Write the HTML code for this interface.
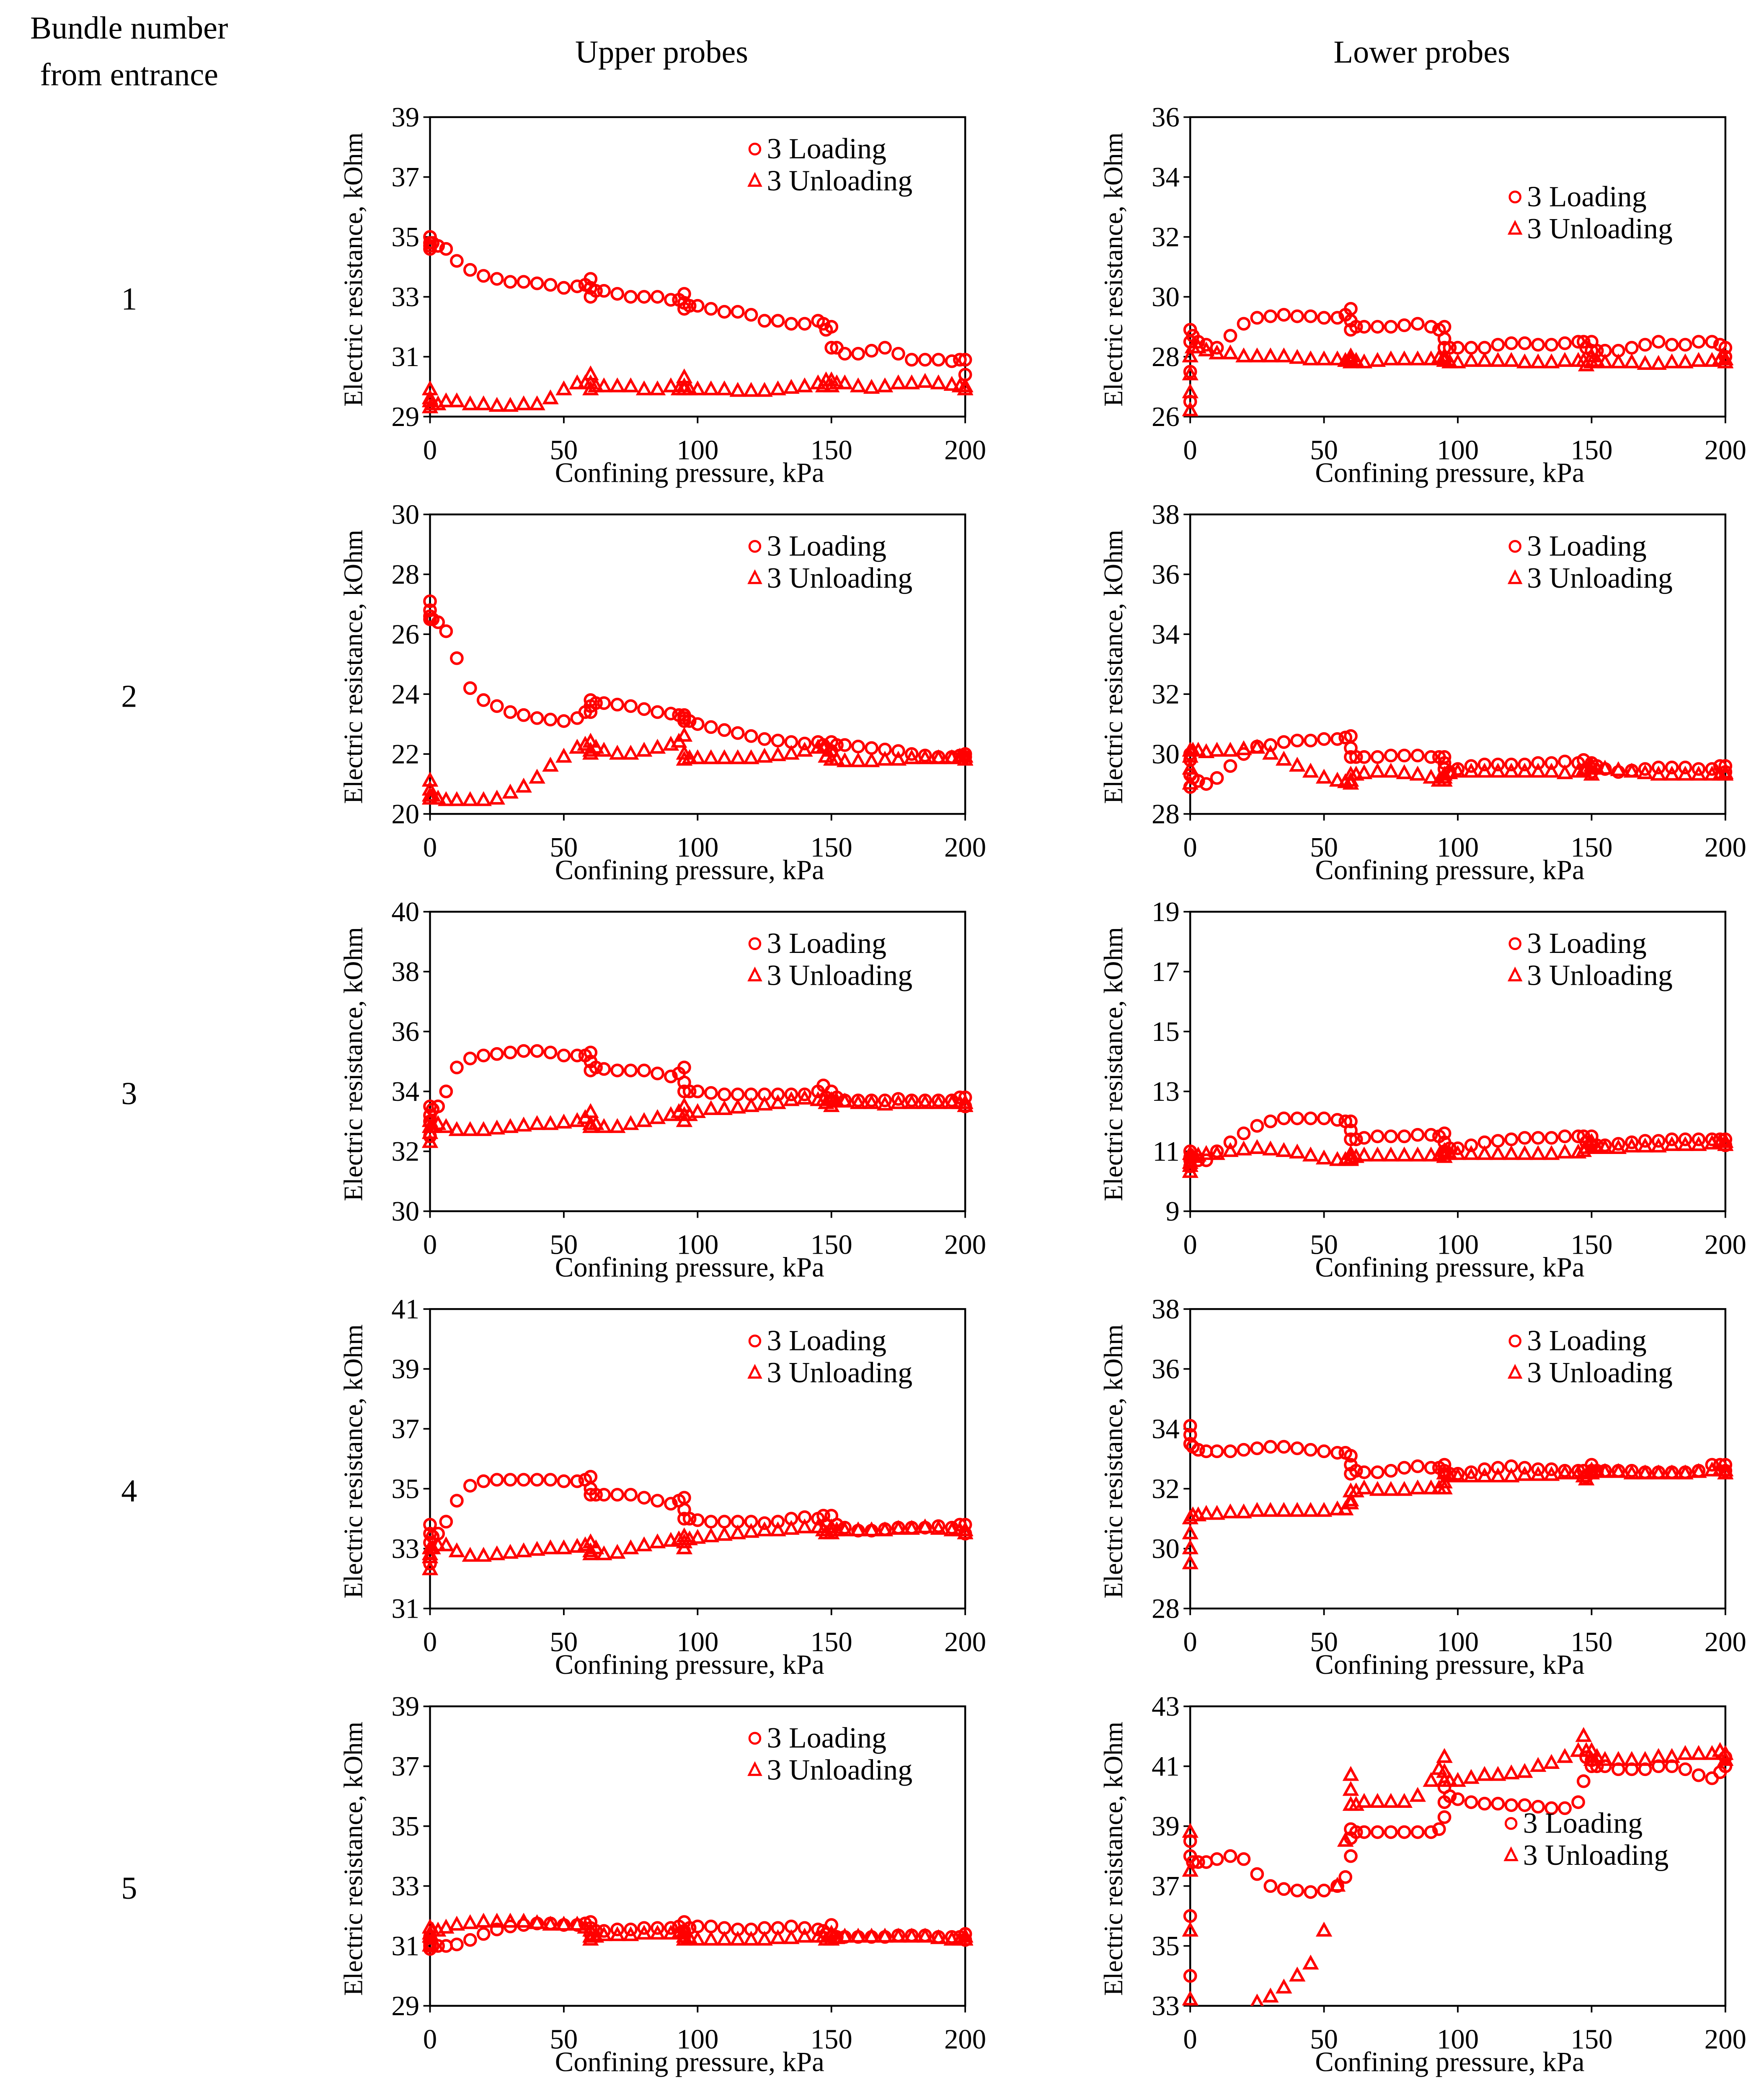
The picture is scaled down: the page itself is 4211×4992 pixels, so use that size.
<!DOCTYPE html>
<html><head><meta charset="utf-8">
<style>
html,body{margin:0;padding:0;background:#fff;}
svg{display:block;font-family:"Liberation Serif",serif;}
</style></head>
<body>
<svg id="fig" xmlns="http://www.w3.org/2000/svg" width="4211" height="4992" viewBox="0 0 1325 1571" preserveAspectRatio="none">
<rect width="1325" height="1571" fill="#fff"/>
<text x="97" y="29" font-size="24" text-anchor="middle">Bundle number</text>
<text x="97" y="64" font-size="24" text-anchor="middle">from entrance</text>
<text x="497" y="47" font-size="24" text-anchor="middle">Upper probes</text>
<text x="1068" y="47" font-size="24" text-anchor="middle">Lower probes</text>
<g id="plots"></g>
</svg>
<script>
const X_P = [0,0,0,0,1,3,6,10,15,20,25,30,35,40,45,50,55,58,60,60,60,62,65,70,75,80,85,90,93,95,95,95,97,100,105,110,115,120,125,130,135,140,145,147,148,150,150,152,155,160,165,170,175,180,185,190,195,198,200,200];
const X_TICKS = [0,50,100,150,200];

const load1U = [34.6,34.8,35.0,34.7,34.8,34.7,34.6,34.2,33.9,33.7,33.6,33.5,33.5,33.45,33.4,33.3,33.35,33.4,33.6,33.3,33.0,33.2,33.2,33.1,33.0,33.0,33.0,32.9,32.9,33.1,32.8,32.6,32.7,32.7,32.6,32.5,32.5,32.4,32.2,32.2,32.1,32.1,32.2,32.1,31.9,32.0,31.3,31.3,31.1,31.1,31.2,31.3,31.1,30.9,30.9,30.9,30.85,30.9,30.9,30.4];
const unl1U = [29.3,29.6,29.9,29.5,29.4,29.4,29.5,29.5,29.4,29.4,29.35,29.35,29.4,29.4,29.6,29.9,30.1,30.1,30.4,30.1,29.9,30.0,30.0,30.0,30.0,29.9,29.9,30.0,29.9,30.3,30.0,29.9,29.9,29.9,29.9,29.9,29.85,29.85,29.85,29.9,29.95,30.0,30.1,30.0,30.2,30.2,30.0,30.1,30.1,30.0,29.95,30.0,30.1,30.1,30.15,30.1,30.05,30.0,30.0,29.9];
const load1L = [26.5,27.5,28.5,28.9,28.7,28.5,28.4,28.3,28.7,29.1,29.3,29.35,29.4,29.35,29.35,29.3,29.3,29.4,29.6,29.2,28.9,29.0,29.0,29.0,29.0,29.05,29.1,29.0,28.9,29.0,28.6,28.3,28.3,28.3,28.3,28.3,28.4,28.45,28.45,28.4,28.4,28.45,28.5,28.5,28.3,28.5,28.2,28.2,28.2,28.2,28.3,28.4,28.5,28.4,28.4,28.5,28.5,28.4,28.3,28.0];
const unl1L = [26.2,26.8,27.4,28.0,28.3,28.3,28.2,28.1,28.1,28.0,28.0,28.0,28.0,27.95,27.9,27.9,27.9,27.85,28.0,27.8,27.9,27.85,27.8,27.85,27.9,27.9,27.9,27.9,27.95,27.9,27.85,28.0,27.8,27.8,27.85,27.85,27.85,27.85,27.8,27.8,27.8,27.85,27.85,27.85,27.7,28.0,27.8,27.85,27.8,27.8,27.8,27.75,27.75,27.8,27.8,27.85,27.85,27.9,27.9,27.8];
const load2U = [26.5,26.8,27.1,26.6,26.5,26.4,26.1,25.2,24.2,23.8,23.6,23.4,23.3,23.2,23.15,23.1,23.2,23.4,23.8,23.6,23.4,23.7,23.7,23.65,23.6,23.5,23.4,23.35,23.3,23.3,23.1,23.2,23.1,23.0,22.9,22.8,22.7,22.6,22.5,22.45,22.4,22.35,22.4,22.3,22.2,22.4,22.1,22.3,22.3,22.25,22.2,22.15,22.1,22.0,21.95,21.9,21.9,21.95,22.0,21.9];
const unl2U = [20.5,20.8,21.1,20.6,20.6,20.5,20.45,20.45,20.45,20.45,20.5,20.7,20.9,21.2,21.6,21.9,22.2,22.3,22.4,22.1,22.0,22.2,22.1,22.0,22.0,22.1,22.2,22.3,22.4,22.6,22.0,21.8,21.85,21.85,21.85,21.85,21.85,21.85,21.9,21.95,22.0,22.1,22.2,22.2,21.9,22.1,21.8,21.8,21.75,21.75,21.75,21.8,21.8,21.85,21.85,21.85,21.85,21.9,21.9,21.8];
const load2L = [28.9,29.3,29.8,30.0,29.2,29.1,29.0,29.2,29.6,30.0,30.25,30.3,30.4,30.45,30.45,30.5,30.5,30.55,30.6,30.2,29.9,29.9,29.9,29.9,29.95,29.95,29.95,29.9,29.9,29.9,29.7,29.5,29.4,29.5,29.6,29.65,29.65,29.65,29.65,29.7,29.7,29.75,29.7,29.8,29.5,29.7,29.4,29.6,29.5,29.4,29.45,29.5,29.55,29.55,29.55,29.5,29.5,29.6,29.6,29.4];
const unl2L = [29.0,29.5,29.9,30.1,30.1,30.1,30.05,30.1,30.1,30.15,30.2,30.0,29.8,29.6,29.4,29.2,29.1,29.05,29.3,29.1,29.0,29.3,29.35,29.4,29.4,29.35,29.3,29.2,29.1,29.2,29.1,29.3,29.35,29.4,29.4,29.4,29.4,29.4,29.4,29.4,29.4,29.35,29.4,29.45,29.5,29.6,29.3,29.5,29.5,29.45,29.4,29.35,29.3,29.3,29.3,29.3,29.3,29.3,29.35,29.3];
const load3U = [32.5,33.0,33.5,33.2,33.4,33.5,34.0,34.8,35.1,35.2,35.25,35.3,35.35,35.35,35.3,35.2,35.2,35.2,35.3,35.0,34.7,34.8,34.75,34.7,34.7,34.7,34.6,34.5,34.6,34.8,34.3,34.0,34.0,34.0,33.95,33.9,33.9,33.9,33.9,33.9,33.9,33.9,34.0,34.2,33.8,34.0,33.7,33.8,33.7,33.7,33.7,33.7,33.75,33.7,33.7,33.7,33.7,33.8,33.8,33.5];
const unl3U = [32.3,32.6,33.0,32.8,32.8,32.9,32.8,32.7,32.7,32.7,32.75,32.8,32.85,32.9,32.9,32.95,33.0,33.1,33.3,32.9,32.8,32.9,32.8,32.8,32.9,33.0,33.1,33.2,33.3,33.5,33.2,33.0,33.2,33.3,33.4,33.4,33.45,33.5,33.55,33.6,33.7,33.75,33.7,33.7,33.6,33.7,33.5,33.65,33.65,33.6,33.6,33.55,33.6,33.6,33.6,33.6,33.6,33.6,33.6,33.5];
const load3L = [10.5,10.8,11.0,10.7,10.8,10.7,10.7,11.0,11.3,11.6,11.85,12.0,12.1,12.1,12.1,12.1,12.05,12.0,12.0,11.7,11.4,11.4,11.45,11.5,11.5,11.5,11.55,11.55,11.5,11.6,11.3,11.0,11.1,11.1,11.2,11.3,11.35,11.4,11.45,11.45,11.45,11.5,11.5,11.5,11.3,11.5,11.2,11.2,11.2,11.25,11.3,11.35,11.35,11.4,11.4,11.4,11.4,11.4,11.4,11.2];
const unl3L = [10.3,10.6,10.9,10.5,10.8,10.85,10.9,10.9,11.0,11.05,11.1,11.05,11.0,10.95,10.85,10.75,10.7,10.7,10.9,10.75,10.7,10.8,10.85,10.85,10.85,10.85,10.85,10.85,10.85,11.0,10.8,10.9,10.9,10.9,10.9,10.9,10.9,10.9,10.9,10.9,10.9,10.95,10.95,11.0,11.1,11.3,11.1,11.1,11.1,11.1,11.15,11.15,11.15,11.2,11.2,11.2,11.25,11.3,11.3,11.2];
const load4U = [32.5,33.2,33.8,33.5,33.4,33.5,33.9,34.6,35.1,35.25,35.3,35.3,35.3,35.3,35.3,35.25,35.25,35.3,35.4,35.0,34.8,34.8,34.8,34.8,34.8,34.7,34.6,34.5,34.6,34.7,34.3,34.0,34.0,33.95,33.9,33.9,33.9,33.9,33.85,33.9,34.0,34.05,34.0,34.1,33.8,34.1,33.6,33.8,33.7,33.6,33.6,33.65,33.7,33.7,33.7,33.75,33.7,33.8,33.8,33.5];
const unl4U = [32.3,32.7,33.0,32.8,33.0,33.1,33.1,32.9,32.75,32.75,32.8,32.85,32.9,32.95,33.0,33.0,33.05,33.1,33.2,32.9,32.8,33.0,32.8,32.85,33.0,33.1,33.2,33.25,33.3,33.4,33.0,33.2,33.3,33.35,33.4,33.45,33.5,33.55,33.6,33.6,33.65,33.7,33.7,33.6,33.5,33.7,33.5,33.6,33.6,33.6,33.6,33.6,33.65,33.65,33.7,33.65,33.6,33.6,33.6,33.5];
const load4L = [33.5,33.8,34.1,33.5,33.4,33.3,33.25,33.25,33.25,33.3,33.35,33.4,33.4,33.35,33.3,33.25,33.2,33.2,33.1,32.8,32.5,32.6,32.55,32.55,32.6,32.7,32.75,32.7,32.7,32.8,32.6,32.5,32.5,32.5,32.55,32.65,32.7,32.75,32.7,32.65,32.65,32.6,32.6,32.6,32.4,32.8,32.6,32.6,32.6,32.6,32.6,32.55,32.55,32.55,32.55,32.6,32.8,32.8,32.8,32.6];
const unl4L = [29.5,30.0,30.5,31.0,31.1,31.1,31.15,31.15,31.2,31.2,31.25,31.25,31.25,31.25,31.25,31.25,31.3,31.3,31.6,31.9,31.5,31.9,32.0,31.95,31.95,31.95,32.0,32.0,32.0,32.2,32.5,32.0,32.4,32.4,32.4,32.4,32.4,32.4,32.45,32.45,32.45,32.5,32.5,32.4,32.3,32.6,32.5,32.6,32.55,32.55,32.5,32.5,32.5,32.5,32.5,32.55,32.6,32.6,32.6,32.5];
const load5U = [30.9,31.1,31.3,31.0,31.0,31.0,31.0,31.05,31.2,31.4,31.55,31.65,31.7,31.75,31.75,31.7,31.7,31.75,31.8,31.6,31.4,31.5,31.5,31.55,31.55,31.6,31.6,31.6,31.65,31.8,31.5,31.3,31.6,31.65,31.65,31.6,31.55,31.55,31.6,31.6,31.65,31.6,31.55,31.5,31.4,31.7,31.3,31.3,31.3,31.3,31.3,31.3,31.35,31.35,31.35,31.3,31.3,31.3,31.4,31.2];
const unl5U = [31.0,31.3,31.6,31.4,31.5,31.5,31.6,31.7,31.75,31.8,31.8,31.8,31.8,31.75,31.7,31.7,31.7,31.6,31.5,31.3,31.2,31.3,31.35,31.35,31.35,31.4,31.4,31.4,31.4,31.5,31.3,31.2,31.25,31.2,31.2,31.2,31.2,31.2,31.2,31.25,31.25,31.3,31.3,31.3,31.2,31.4,31.2,31.25,31.3,31.3,31.3,31.3,31.3,31.3,31.3,31.25,31.2,31.2,31.3,31.2];
const load5L = [34.0,36.0,38.0,38.5,37.8,37.8,37.8,37.9,38.0,37.9,37.4,37.0,36.9,36.85,36.8,36.85,37.0,37.3,38.0,38.6,38.9,38.8,38.8,38.8,38.8,38.8,38.8,38.8,38.9,39.3,39.8,40.3,40.0,39.9,39.8,39.75,39.75,39.7,39.7,39.65,39.6,39.6,39.8,40.5,41.3,41.2,41.0,41.0,41.0,40.9,40.9,40.9,41.0,41.0,40.9,40.7,40.6,40.8,41.0,41.3];
const unl5L = [33.2,35.5,37.5,38.8,32.5,32.5,32.5,32.5,32.5,32.5,33.1,33.3,33.6,34.0,34.4,35.5,37.0,38.5,39.7,40.2,40.7,39.7,39.8,39.8,39.8,39.8,40.0,40.5,40.9,41.3,40.5,40.8,40.5,40.5,40.6,40.7,40.7,40.75,40.8,41.0,41.1,41.3,41.5,42.0,41.5,41.2,41.5,41.3,41.2,41.2,41.2,41.2,41.3,41.3,41.4,41.4,41.4,41.5,41.4,41.2];

const Y_RANGES = [[29,39],[26,36],[20,30],[28,38],[30,40],[9,19],[31,41],[28,38],[29,39],[33,43]];
const LOADS = [load1U,load1L,load2U,load2L,load3U,load3L,load4U,load4L,load5U,load5L];
const UNLOADS = [unl1U,unl1L,unl2U,unl2L,unl3U,unl3L,unl4U,unl4L,unl5U,unl5L];
const BUNDLES = ["1","2","3","4","5"];

const NS = "http://www.w3.org/2000/svg";
const root = document.getElementById('plots');
function mk(tag, attrs, parent, text){
  const e = document.createElementNS(NS, tag);
  for (const k in attrs) e.setAttribute(k, attrs[k]);
  if (text !== undefined) e.textContent = text;
  parent.appendChild(e);
  return e;
}
const COL_X = [323, 894];
const ROW_Y = [88, 386.5, 685, 983.5, 1282];
const PW = 402, PH = 225;
const RED = "#ff0000";

BUNDLES.forEach((b, r) => {
  const t = mk('text', {x:97, y:ROW_Y[r]+PH/2+32, 'font-size':24, 'text-anchor':'middle'}, root, b);
  
  
});

for (let i = 0; i < 10; i++) {
  const r = Math.floor(i / 2), c = i % 2;
  const x0 = COL_X[c], y0 = ROW_Y[r];
  const [ymin, ymax] = Y_RANGES[i];
  const sx = v => x0 + (v - 0) / 200 * PW;
  const sy = v => y0 + PH - (v - ymin) / (ymax - ymin) * PH;
  const g = mk('g', {}, root);
  
  
  const cid = 'clip' + i;
  const cp = mk('clipPath', {id: cid}, g);
  mk('rect', {x:x0-6, y:y0-6, width:PW+12, height:PH+6}, cp);
  const fr = mk('rect', {x:x0, y:y0, width:PW, height:PH, fill:'none', stroke:'#000', 'stroke-width':1.4}, g);
  
  
  for (let v = ymin; v <= ymax; v += 2) {
    mk('line', {x1:x0-5, x2:x0, y1:sy(v), y2:sy(v), stroke:'#000', 'stroke-width':1.2}, g);
    const tl = mk('text', {x:x0-8, y:sy(v)+7, 'font-size':21, 'text-anchor':'end'}, g, String(v));
    
    
  }
  X_TICKS.forEach(v => {
    mk('line', {x1:sx(v), x2:sx(v), y1:y0+PH, y2:y0+PH+5, stroke:'#000', 'stroke-width':1.2}, g);
    const tl = mk('text', {x:sx(v), y:y0+PH+32, 'font-size':21, 'text-anchor':'middle'}, g, String(v));
    
    
  });
  const xt = mk('text', {x:x0+PW/2-6, y:y0+PH+49, 'font-size':21, 'text-anchor':'middle'}, g, 'Confining pressure, kPa');
  
  
  const yc = y0 + PH/2 + 2;
  const yt = mk('text', {x:x0-51, y:yc, 'font-size':20, 'text-anchor':'middle', transform:`rotate(-90 ${x0-51} ${yc})`}, g, 'Electric resistance, kOhm');
  
  
  const sg = mk('g', {'clip-path':`url(#${cid})`, fill:'none', stroke:RED, 'stroke-width':1.9}, g);
  const ld = LOADS[i], ul = UNLOADS[i];
  X_P.forEach((xv, k) => {
    const px = sx(xv), py = sy(ul[k]);
    const tri = mk('polygon', {points:`${px},${py-5} ${px-4.6},${py+3.3} ${px+4.6},${py+3.3}`}, sg);
    
    
  });
  X_P.forEach((xv, k) => {
    const ci = mk('circle', {cx:sx(xv), cy:sy(ld[k]), r:4.2}, sg);
    
    
  });
  let lx = x0 + 244, ly = y0 + 24;
  if (i === 1) ly = y0 + 60;
  if (i === 9) { lx = 1135; ly = y0 + 88; }
  const lg = mk('g', {}, g);
  
  
  const lc = mk('circle', {cx:lx, cy:ly, r:4, fill:'none', stroke:RED, 'stroke-width':1.6}, lg);
  
  
  const l1 = mk('text', {x:lx+9, y:ly+7, 'font-size':22}, lg, '3 Loading');
  
  
  const ly2 = ly + 24;
  const lt = mk('polygon', {points:`${lx},${ly2-5} ${lx-4.3},${ly2+3.5} ${lx+4.3},${ly2+3.5}`, fill:'none', stroke:RED, 'stroke-width':1.6}, lg);
  
  
  const l2 = mk('text', {x:lx+9, y:ly2+7, 'font-size':22}, lg, '3 Unloading');
  
  
}
</script>
</body></html>
